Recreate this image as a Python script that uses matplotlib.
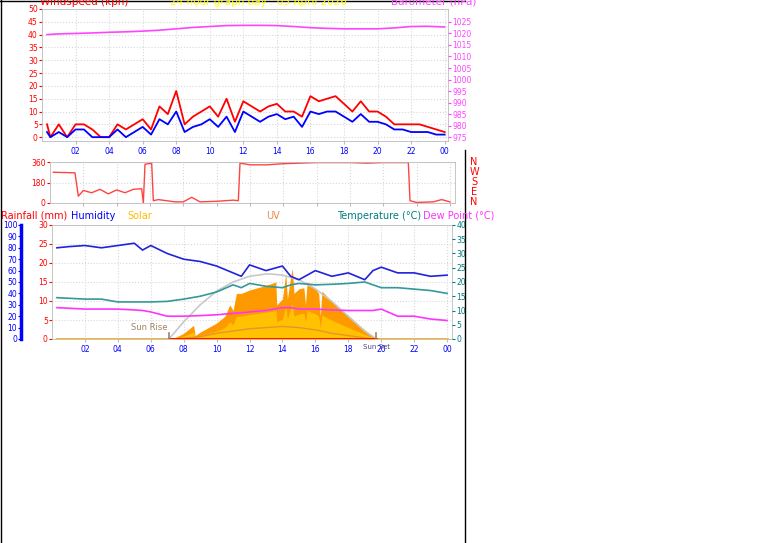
import matplotlib
matplotlib.use("Agg")
import matplotlib.pyplot as plt
import numpy as np

W, H = 761, 543

# wind (kph), half-hour steps
wind_hours = [0.3, 0.5, 1.0, 1.5, 2.0, 2.5, 3.0, 3.5, 4.0, 4.5, 5.0, 5.5, 6.0, 6.5, 7.0, 7.5, 8.0, 8.5,
              9.0, 9.5, 10.0, 10.5, 11.0, 11.5, 12.0, 12.5, 13.0, 13.5, 14.0, 14.5, 15.0, 15.5, 16.0,
              16.5, 17.0, 17.5, 18.0, 18.5, 19.0, 19.5, 20.0, 20.5, 21.0, 21.5, 22.0, 22.5, 23.0, 23.5, 24.0]
gust = [5, 0, 5, 0, 5, 5, 3, 0, 0, 5, 3, 5, 7, 3, 12, 9, 18, 5, 8, 10, 12, 8, 15, 6, 14, 12, 10,
        12, 13, 10, 10, 8, 16, 14, 15, 16, 13, 10, 14, 10, 10, 8, 5, 5, 5, 5, 4, 3, 2]
avg = [2, 0, 2, 0, 3, 3, 0, 0, 0, 3, 0, 2, 4, 1, 7, 5, 10, 2, 4, 5, 7, 4, 8, 2, 10, 8, 6,
       8, 9, 7, 8, 4, 10, 9, 10, 10, 8, 6, 9, 6, 6, 5, 3, 3, 2, 2, 2, 1, 1]

baro_hours = [0.3, 1, 2, 3, 4, 5, 6, 7, 8, 9, 10, 11, 12, 13, 14, 15, 16, 17, 18, 19, 20, 21, 22, 23, 24]
baro = [1019.5, 1019.8, 1020.0, 1020.2, 1020.5, 1020.7, 1021.0, 1021.4, 1022.0, 1022.6, 1023.0,
        1023.4, 1023.5, 1023.5, 1023.4, 1023.0, 1022.5, 1022.2, 1022.0, 1022.0, 1022.0, 1022.4,
        1023.0, 1023.1, 1022.8]

dir_hours = [0.2, 1.5, 1.7, 2.0, 2.5, 3.0, 3.5, 4.0, 4.5, 5.0, 5.5, 5.6, 5.7, 6.1, 6.2, 6.5, 7.0,
             7.5, 8.0, 8.5, 9.0, 10.0, 11.0, 11.3, 11.4, 12.0, 13.0, 14.0, 15.0, 16.0, 17.0, 18.0,
             19.0, 20.0, 21.0, 21.5, 21.6, 22.0, 23.0, 23.5, 24.0]
wdir = [270, 265, 60, 110, 90, 120, 80, 115, 90, 120, 125, 0, 340, 350, 20, 30, 20, 10, 10, 50, 10,
        15, 25, 20, 350, 335, 335, 345, 350, 355, 355, 355, 350, 355, 355, 355, 20, 5, 10, 30, 10]

lo_hours = [0.3, 1, 2, 3, 4, 5, 5.5, 6, 7, 8, 9, 10, 11, 11.5, 12, 13, 14, 14.5, 15, 16, 17, 18, 19,
            19.5, 20, 21, 22, 23, 24]
humidity = [80, 81, 82, 80, 82, 84, 78, 82, 75, 70, 68, 64, 58, 55, 65, 60, 64, 55, 52, 60, 55, 58,
            52, 60, 63, 58, 58, 55, 56]
temperature = [14.5, 14.3, 14.0, 14.0, 13.0, 13.0, 13.0, 13.0, 13.2, 14.0, 15.0, 16.5, 19.0, 18.0,
               19.5, 18.5, 18.0, 19.0, 19.5, 19.0, 19.2, 19.5, 20.0, 19.0, 18.0, 18.0, 17.5, 17.0, 16.0]
dewpoint = [11.0, 10.8, 10.5, 10.5, 10.5, 10.2, 10.0, 9.5, 8.0, 8.0, 8.2, 8.5, 9.0, 9.2, 9.5, 10.0,
            11.0, 11.0, 10.5, 10.5, 10.2, 10.0, 10.0, 10.0, 10.5, 8.0, 8.0, 7.0, 6.5]

solar_hours = [7.3, 8.0, 8.6, 8.7, 9.0, 9.5, 10.0, 10.5, 10.8, 11.0, 11.2, 11.5, 12.0, 12.5, 13.0,
               13.6, 13.65, 14.0, 14.2, 14.3, 14.5, 14.6, 14.7, 15.0, 15.3, 15.4, 15.5, 16.0, 16.2,
               16.3, 16.4, 17.0, 18.0, 19.0, 19.7]
solar = [0, 5, 12, 3, 6, 10, 14, 20, 30, 25, 40, 40, 43, 45, 47, 50, 30, 35, 58, 35, 55, 62, 40,
         44, 45, 30, 50, 44, 40, 20, 42, 33, 20, 8, 0]
theory_hours = [7.1, 8, 9, 10, 11, 12, 13, 13.3, 14, 15, 16, 17, 18, 19, 19.7]
theory = [0, 15, 30, 42, 50, 55, 57, 57, 56, 52, 44, 33, 20, 7, 0]
uv_hours = [7.5, 9, 10, 11, 12, 13, 14, 15, 16, 17, 18, 19, 19.5]
uv = [0, 2, 5, 7, 9, 10, 11, 10, 8, 5, 3, 1, 0]

hour_ticks = list(range(2, 25, 2))
hour_labels = ["%02d" % (h % 24) for h in hour_ticks]

fig = plt.figure(figsize=(W / 100, H / 100), dpi=100)
fig.patch.set_facecolor("white")


def box(x0, y0, x1, y1):
    return [x0 / W, 1 - y1 / H, (x1 - x0) / W, (y1 - y0) / H]


def style(ax, color):
    ax.set_facecolor("white")
    ax.grid(True, color="#d8d8d8", linestyle=":", linewidth=0.8)
    for s in ax.spines.values():
        s.set_color("#bbbbbb")
        s.set_linewidth(0.6)
    ax.tick_params(axis="y", colors=color, labelsize=5.5, length=2, pad=1)
    ax.tick_params(axis="x", colors="#bbbbbb", labelcolor="blue", labelsize=5.5, length=2, pad=2)


# --- wind / barometer ---
ax1 = fig.add_axes(box(42, 9, 448, 141))
style(ax1, "red")
ax1.plot(wind_hours, gust, color="red", lw=1.3)
ax1.plot(wind_hours, avg, color="blue", lw=1.3)
ax1.set_xlim(0, 24.2)
ax1.set_ylim(-1.5, 50)
ax1.set_yticks(range(0, 51, 5))
ax1.set_xticks(hour_ticks)
ax1.set_xticklabels(hour_labels)
axb = ax1.twinx()
axb.plot(baro_hours, baro, color="#ff44ff", lw=1.2)
axb.set_ylim(975 - 1.5 * 55.6 / 50, 975 + 55.6)
axb.set_yticks(range(975, 1026, 5))
axb.tick_params(axis="y", colors="#ff44ff", labelsize=5.5, length=2, pad=1)
for s in axb.spines.values():
    s.set_visible(False)

fig.text(40 / W, 1 - 2 / H, "Windspeed (kph)", color="red", fontsize=7.5, va="center")
fig.text(258 / W, 1 - 2 / H, "24 hour graph day : 05 April 2026", color="yellow", fontsize=7.5,
         va="center", ha="center")
fig.text(476 / W, 1 - 2 / H, "Barometer (hPa)", color="#ff44ff", fontsize=7.5, va="center", ha="right")

# --- wind direction ---
ax2 = fig.add_axes(box(50, 162, 455, 203))
style(ax2, "red")
ax2.plot(dir_hours, wdir, color="#ff4444", lw=1.0)
ax2.set_xlim(0, 24.3)
ax2.set_ylim(0, 360)
ax2.set_yticks([0, 180, 360])
ax2.set_xticks(hour_ticks)
ax2.tick_params(axis="x", labelbottom=False)
for i, c in enumerate("NWSEN"):
    fig.text(474 / W, 1 - (162 + i * 10) / H, c, color="red", fontsize=7, ha="center", va="center")

# --- lower panel ---
ax3 = fig.add_axes(box(52, 225, 452, 339))
style(ax3, "red")
ax3.set_xlim(0, 24.3)
ax3.set_ylim(0, 30)
ax3.set_yticks(range(0, 31, 5))
ax3.set_xticks(hour_ticks)
ax3.set_xticklabels(hour_labels)

axh = ax3.twinx()
axh.set_ylim(0, 100)
axh.yaxis.tick_left()
axh.yaxis.set_label_position("left")
axh.spines["left"].set_position(("outward", 22))
axh.spines["left"].set_color("blue")
axh.spines["left"].set_linewidth(2.5)
for k in ("right", "top", "bottom"):
    axh.spines[k].set_visible(False)
axh.set_yticks(range(0, 101, 10))
axh.tick_params(axis="y", colors="blue", labelsize=5.5, length=2, pad=1)
axh.fill_between(solar_hours, solar, color="#ff9900", lw=0)
axh.fill_between(solar_hours, np.array(solar) * 0.5, color="#ffcc00", alpha=0.8, lw=0)
axh.plot(theory_hours, theory, color="#c8c8c8", lw=1.2)
axh.plot(uv_hours, uv, color="#e08040", lw=1.0, alpha=0.7)
axh.plot(lo_hours, humidity, color="#2222dd", lw=1.2)
axh.plot([0.3, 24], [0, 0], color="#ffaa00", lw=2)
axh.plot([7.1, 19.7], [0, 0], color="red", lw=2)
axh.plot([7.1, 7.1], [0, 5], color="#a08060", lw=1.2)
axh.plot([19.7, 19.7], [0, 5], color="#a08060", lw=1.2)
axh.text(7.0, 7.5, "Sun Rise", color="#a08060", fontsize=6, ha="right")
axh.text(19.7, -4, "Sun Set", color="#444488", fontsize=5, ha="center", va="top")

axt = ax3.twinx()
axt.set_ylim(0, 40)
axt.set_yticks(range(0, 41, 5))
axt.tick_params(axis="y", colors="teal", labelsize=5.5, length=2, pad=1)
for s in axt.spines.values():
    s.set_visible(False)
axt.plot(lo_hours, temperature, color="#339999", lw=1.2)
axt.plot(lo_hours, dewpoint, color="#ff33ff", lw=1.2)

y_hdr = 1 - 216 / H
fig.text(1 / W, y_hdr, "Rainfall (mm)", color="red", fontsize=7, va="center")
fig.text(71 / W, y_hdr, "Humidity", color="blue", fontsize=7, va="center")
fig.text(127 / W, y_hdr, "Solar", color="#ffbb00", fontsize=7, va="center")
fig.text(266 / W, y_hdr, "UV", color="#ee8844", fontsize=7, va="center")
fig.text(337 / W, y_hdr, "Temperature (°C)", color="teal", fontsize=7, va="center")
fig.text(423 / W, y_hdr, "Dew Point (°C)", color="#ff33ff", fontsize=7, va="center")

# frame lines
fig.add_artist(plt.Line2D([0.5 / W, 0.5 / W], [0, 1], color="black", lw=1))
fig.add_artist(plt.Line2D([0, 465 / W], [1 - 0.5 / H, 1 - 0.5 / H], color="black", lw=1))
fig.add_artist(plt.Line2D([465 / W, 465 / W], [0, 1 - 150 / H], color="black", lw=1))

fig.savefig("out.png", dpi=100, facecolor="white")
